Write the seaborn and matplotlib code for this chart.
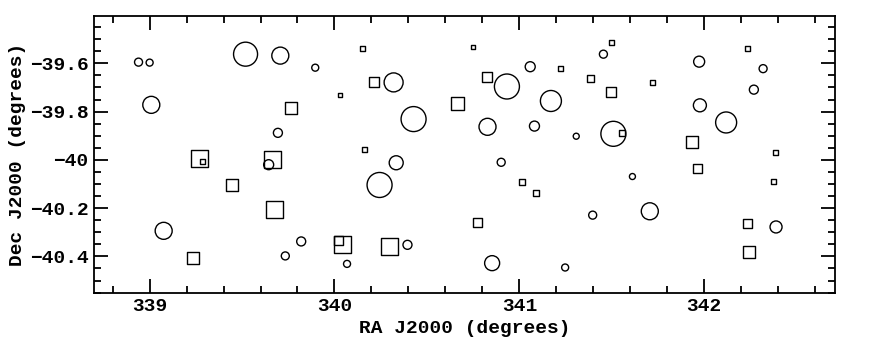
import pandas as pd
import matplotlib
matplotlib.use("Agg")
import matplotlib.pyplot as plt
from matplotlib.ticker import MultipleLocator, FuncFormatter
import seaborn as sns

# circles
circ_ra = [338.94, 339.00, 339.519, 339.707, 339.896, 339.009, 339.694, 339.644,
           339.076, 339.820, 339.734, 340.068, 341.455, 340.320, 340.933, 341.059,
           341.171, 340.428, 340.828, 341.082, 341.308, 341.509, 340.334, 340.244,
           340.902, 341.612, 341.397, 340.395, 340.853, 341.248, 341.973, 342.319,
           342.269, 341.977, 342.119, 342.389, 341.706]
circ_dec = [-39.595, -39.597, -39.562, -39.568, -39.618, -39.772, -39.888, -40.020,
            -40.294, -40.338, -40.398, -40.431, -39.562, -39.679, -39.696, -39.614,
            -39.756, -39.831, -39.863, -39.860, -39.902, -39.892, -40.012, -40.104,
            -40.010, -40.069, -40.229, -40.352, -40.428, -40.446, -39.593, -39.622,
            -39.709, -39.774, -39.845, -40.278, -40.213]
circ_size = [8, 7, 24, 17, 7, 17, 9, 10,
             17, 9, 8, 7, 8, 19, 25, 10,
             21, 25, 17, 10, 6, 25, 14, 25,
             8, 6, 8, 9, 15, 7, 11, 8,
             9, 13, 21, 12, 17]

# squares
sq_ra = [340.154, 339.763, 340.031, 339.270, 339.287, 339.667, 340.163, 339.447,
         339.674, 340.041, 340.022, 339.233, 340.752, 341.501, 340.215, 340.825,
         341.225, 341.383, 341.495, 340.668, 341.558, 341.016, 341.090, 340.772,
         340.298, 342.236, 341.723, 341.935, 342.388, 341.966, 342.377, 342.233,
         342.242]
sq_dec = [-39.540, -39.785, -39.732, -39.994, -40.006, -39.999, -39.955, -40.104,
          -40.205, -40.352, -40.335, -40.406, -39.534, -39.512, -39.679, -39.657,
          -39.621, -39.663, -39.720, -39.766, -39.888, -40.090, -40.136, -40.261,
          -40.357, -39.540, -39.679, -39.927, -39.969, -40.034, -40.090, -40.263,
          -40.382]
sq_size = [5, 12, 4, 17, 5, 17, 5, 12,
           17, 17, 9, 12, 4, 5, 10, 10,
           5, 7, 10, 13, 6, 6, 6, 9,
           17, 5, 5, 12, 5, 9, 5, 9,
           12]

df = pd.concat([
    pd.DataFrame({"ra": circ_ra, "dec": circ_dec, "size": circ_size, "kind": "circle"}),
    pd.DataFrame({"ra": sq_ra, "dec": sq_dec, "size": sq_size, "kind": "square"}),
], ignore_index=True)
df["area"] = df["size"] ** 2

sns.set_style("ticks")
plt.rcParams["font.family"] = ["Liberation Mono", "DejaVu Sans"]
plt.rcParams["font.weight"] = "bold"
plt.rcParams["axes.labelweight"] = "bold"
plt.rcParams["axes.labelcolor"] = "black"
plt.rcParams["text.color"] = "black"

fig = plt.figure(figsize=(8.72, 3.51), dpi=100)
ax = fig.add_axes([0.108, 0.165, 0.85, 0.79])

# marker size in px -> points^2 (1 px = 0.72 pt at 100 dpi)
k = 0.72 ** 2
amin, amax = df["area"].min(), df["area"].max()
sns.scatterplot(data=df, x="ra", y="dec", size="area", sizes=(amin * k, amax * k),
                size_norm=(amin, amax), style="kind",
                markers={"circle": "o", "square": "s"},
                facecolors="none", edgecolors="black", color="black",
                linewidth=1.0, legend=False, ax=ax)

ax.set_xlim(338.70, 342.71)
ax.set_ylim(-40.552, -39.403)
ax.xaxis.set_major_locator(MultipleLocator(1))
ax.xaxis.set_minor_locator(MultipleLocator(0.2))
ax.yaxis.set_major_locator(MultipleLocator(0.2))
ax.yaxis.set_minor_locator(MultipleLocator(0.05))
fmt = FuncFormatter(lambda v, p: ("%g" % round(v, 2)).replace("-", "\u2212"))
ax.xaxis.set_major_formatter(fmt)
ax.yaxis.set_major_formatter(fmt)
ax.tick_params(which="both", direction="in", top=True, right=True, width=1.3,
               colors="black", labelsize=14)
ax.tick_params(axis="x", pad=3.5)
ax.tick_params(axis="y", pad=4)
ax.tick_params(which="major", length=10)
ax.tick_params(which="minor", length=5)
for s in ax.spines.values():
    s.set_linewidth(1.3)
    s.set_color("black")

ax.set_xlabel("RA J2000 (degrees)", fontsize=14, labelpad=3.5, color="black")
ax.set_ylabel("Dec J2000 (degrees)", fontsize=14, labelpad=3, color="black")

fig.savefig("out.png", dpi=100)
